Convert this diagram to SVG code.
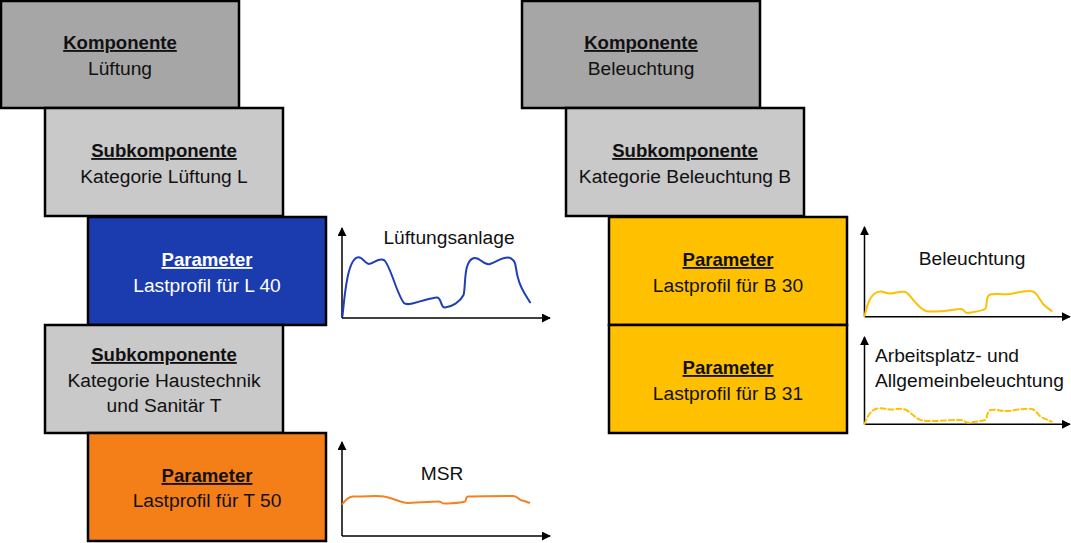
<svg xmlns="http://www.w3.org/2000/svg" width="1071" height="543" viewBox="0 0 1071 543">
<style>
.box{stroke:#000;stroke-width:2.5}
.k{fill:#a6a6a6}.s{fill:#c9c9c9}.pb{fill:#1b3cae}.po{fill:#f47f19}.py{fill:#ffc000}
text{font-family:"Liberation Sans",Arial,sans-serif;font-size:19.2px;fill:#111;text-anchor:middle}
.h{font-weight:bold;text-decoration:underline;font-size:18.6px}
.w{fill:#fff}
.ax{stroke:#000;stroke-width:1.5;fill:none}
.cv{fill:none;stroke-width:2;stroke-linecap:round;stroke-linejoin:round}
</style>
<defs>
<marker id="ah" viewBox="0 0 10 10" refX="9" refY="5" markerWidth="9" markerHeight="9" markerUnits="userSpaceOnUse" orient="auto">
<path d="M0,0 L10,5 L0,10 z" fill="#000"/>
</marker>
</defs>

<g id="komp-lueftung"><rect class="box k" x="1" y="1" width="238" height="107"/>
<text x="120" y="49" class="h">Komponente</text><text x="120" y="75">Lüftung</text></g>
<g id="sub-lueftung"><rect class="box s" x="45" y="108" width="238" height="108"/>
<text x="164" y="157" class="h">Subkomponente</text><text x="164" y="183">Kategorie Lüftung L</text></g>
<g id="param-l40"><rect class="box pb" x="88" y="217" width="238" height="108"/>
<text x="207" y="266" class="h w">Parameter</text><text x="207" y="292" class="w">Lastprofil für L 40</text></g>
<g id="sub-haustechnik"><rect class="box s" x="45" y="325" width="238" height="108"/>
<text x="164" y="361" class="h">Subkomponente</text><text x="164" y="387">Kategorie Haustechnik</text><text x="164" y="412">und Sanitär T</text></g>
<g id="param-t50"><rect class="box po" x="88" y="433" width="238" height="108"/>
<text x="207" y="482" class="h">Parameter</text><text x="207" y="507">Lastprofil für T 50</text></g>

<g id="komp-beleuchtung"><rect class="box k" x="522" y="1" width="238" height="107"/>
<text x="641" y="49" class="h">Komponente</text><text x="641" y="75">Beleuchtung</text></g>
<g id="sub-beleuchtung"><rect class="box s" x="566" y="108" width="238" height="108"/>
<text x="685" y="157" class="h">Subkomponente</text><text x="685" y="183">Kategorie Beleuchtung B</text></g>
<g id="param-b30"><rect class="box py" x="609" y="217" width="238" height="108"/>
<text x="728" y="266" class="h">Parameter</text><text x="728" y="292">Lastprofil für B 30</text></g>
<g id="param-b31"><rect class="box py" x="609" y="325" width="238" height="108"/>
<text x="728" y="374" class="h">Parameter</text><text x="728" y="400">Lastprofil für B 31</text></g>

<g id="connectors"></g>

<g id="chart-lueftung">
<path class="ax" d="M342,318 V228" marker-end="url(#ah)"/>
<path class="ax" d="M342,318 H550" marker-end="url(#ah)"/>
<text x="449" y="244">Lüftungsanlage</text>
<path class="cv" stroke="#1f3fb8" d="M342.5,316 C345,290 348,262 356.7,257.7 C362,255 365,264 369,264 C374,264 378,257 384,260 C390,264 397,295 404,303 C408,307 420,300 436,297.5 C442,296 440,308 445,307.5 C452,307 460,302 463.5,295 C466,288 463,262 473.3,258.3 C480,256 483,266 490,264 C497,262 505,255 511,258.3 C517,262 515,268 518,278 C521,290 527,297 530,302.3"/>
</g>
<g id="chart-msr">
<path class="ax" d="M342,536 V442" marker-end="url(#ah)"/>
<path class="ax" d="M342,536 H550" marker-end="url(#ah)"/>
<text x="442" y="480">MSR</text>
<path class="cv" stroke="#f58220" d="M342.5,504 C346,499 349,496 354,496.5 C364,497 376,495 384,496.5 C394,498 400,503 408,503 C420,502 430,502 437,501.5 C442,501 441,504 446,503.5 C455,503 462,503 465,501.5 C467,500 465,497 468,496.5 C480,496 500,496 513,496 C518,496 519,500 522,500.5 C525,501 527,502 529.3,502.7"/>
</g>
<g id="chart-beleuchtung">
<path class="ax" d="M864.5,316.7 V227" marker-end="url(#ah)"/>
<path class="ax" d="M864.5,316.7 H1070" marker-end="url(#ah)"/>
<text x="972" y="265">Beleuchtung</text>
<path class="cv" stroke="#ffc000" d="M864.5,316 C867,306 870,293 879,291.7 C884,291 886,294 891,293.5 C897,293 903,290 907,293 C912,297 918,308 926,311 C935,313 950,310 960,309 C966,308 963,314 968,313 C974,312 982,311 985,309 C988,306 985,296 990,294.5 C996,293 1001,295 1010,294 C1018,293 1028,289 1034,292 C1038,295 1040,300 1043,304 C1046,307 1049,309 1051.7,311"/>
</g>
<g id="chart-arbeitsplatz">
<path class="ax" d="M864.5,424.3 V337" marker-end="url(#ah)"/>
<path class="ax" d="M864.5,424.3 H1070" marker-end="url(#ah)"/>
<text x="875" y="362" style="text-anchor:start">Arbeitsplatz- und</text>
<text x="875" y="387" style="text-anchor:start">Allgemeinbeleuchtung</text>
<path class="cv" stroke="#ffc000" stroke-dasharray="5,3" d="M864.5,424 C867,418 870,409 879,408.3 C885,408 888,410 893,409.5 C898,409 902,408 906,410 C912,413 916,419 922,420.5 C930,422 948,420 960,420 C966,420 964,423 969,422.7 C975,422 982,421 985,420 C988,418 986,411 991,410 C998,409 1001,411.5 1008,411 C1016,410 1026,408 1032,409 C1037,411 1038,415 1041,417 C1045,419 1048,420 1051.7,421.7"/>
</g>
</svg>
